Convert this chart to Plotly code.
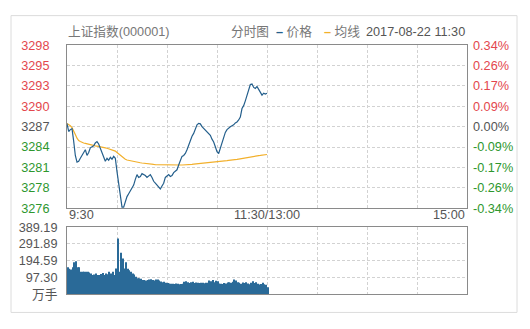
import plotly.graph_objects as go

# ---- data: 上证指数 intraday, 2017-08-22, 9:30 → 11:30 (one value per minute) ----
pre_close = 3286.91

price = [
    3287.34, 3286.25, 3286.51, 3286.64, 3284.93, 3282.96, 3282.04, 3282.17, 3282.57, 3282.96,
    3283.36, 3283.75, 3282.96, 3283.36, 3284.01, 3284.15, 3284.28, 3284.67, 3284.87, 3284.54,
    3284.01, 3283.36, 3282.70, 3282.17, 3282.57, 3282.30, 3282.70, 3282.44, 3282.83, 3282.57,
    3280.73, 3278.89, 3277.05, 3275.86, 3275.86, 3276.65, 3277.31, 3277.70, 3278.10, 3278.36,
    3278.89, 3279.68, 3280.33, 3279.94, 3280.07, 3280.46, 3280.33, 3280.20, 3279.94, 3280.20,
    3280.33, 3279.94, 3279.41, 3279.15, 3278.89, 3278.76, 3278.36, 3278.76, 3279.15, 3279.94,
    3280.20, 3280.33, 3280.07, 3280.20, 3280.60, 3280.86, 3280.99, 3281.65, 3282.30, 3282.83,
    3282.96, 3283.23, 3283.75, 3284.41, 3285.20, 3285.59, 3285.99, 3286.64, 3287.17, 3287.37,
    3287.30, 3286.91, 3286.64, 3286.51, 3286.25, 3285.85, 3285.72, 3285.20, 3284.80, 3284.15,
    3283.49, 3283.23, 3284.01, 3284.80, 3285.46, 3286.12, 3286.51, 3286.77, 3286.91, 3287.04,
    3287.17, 3287.43, 3287.56, 3287.83, 3288.22, 3289.40, 3289.80, 3290.46, 3291.11, 3291.90,
    3292.69, 3292.76, 3292.30, 3292.17, 3292.43, 3292.03, 3291.64, 3291.24, 3291.51, 3291.38,
    3291.51,
]

avg_line = [
    3287.34, 3287.24, 3287.04, 3286.77, 3286.38, 3285.85, 3285.33, 3285.00, 3284.87, 3284.74,
    3284.67, 3284.61, 3284.54, 3284.50, 3284.47, 3284.41, 3284.34, 3284.28, 3284.24, 3284.21,
    3284.17, 3284.15, 3284.08, 3284.01, 3283.95, 3283.88, 3283.82, 3283.75, 3283.69, 3283.55,
    3283.36, 3283.16, 3282.96, 3282.76, 3282.57, 3282.44, 3282.33, 3282.27, 3282.21, 3282.17,
    3282.11, 3282.07, 3282.04, 3282.00, 3281.96, 3281.92, 3281.88, 3281.86, 3281.83, 3281.81,
    3281.78, 3281.75, 3281.73, 3281.71, 3281.70, 3281.69, 3281.67, 3281.66, 3281.65, 3281.65,
    3281.65, 3281.65, 3281.65, 3281.65, 3281.65, 3281.65, 3281.65, 3281.65, 3281.65, 3281.65,
    3281.65, 3281.66, 3281.67, 3281.69, 3281.71, 3281.74, 3281.77, 3281.79, 3281.82, 3281.84,
    3281.87, 3281.90, 3281.92, 3281.95, 3281.98, 3282.00, 3282.03, 3282.05, 3282.08, 3282.11,
    3282.13, 3282.15, 3282.17, 3282.20, 3282.21, 3282.24, 3282.25, 3282.28, 3282.29, 3282.30,
    3282.33, 3282.37, 3282.41, 3282.45, 3282.50, 3282.54, 3282.59, 3282.63, 3282.67, 3282.73,
    3282.76, 3282.80, 3282.83, 3282.87, 3282.90, 3282.94, 3282.96, 3283.00, 3283.03, 3283.07,
    3283.09,
]

# 成交量 (万手)
volume = [
    157, 148, 143, 157, 185, 191, 157, 157, 130, 130,
    130, 130, 130, 126, 120, 111, 115, 120, 111, 111,
    118, 124, 111, 120, 116, 130, 120, 130, 111, 150,
    324, 130, 241, 207, 150, 185, 148, 139, 130, 120,
    115, 102, 93, 93, 90, 83, 83, 80, 83, 85,
    87, 83, 80, 85, 85, 80, 74, 70, 72, 67,
    65, 62, 61, 61, 60, 62, 61, 58, 60, 61,
    72, 75, 70, 65, 70, 72, 65, 68, 67, 65,
    66, 67, 64, 66, 66, 80, 75, 83, 70, 79,
    75, 63, 61, 60, 65, 62, 68, 70, 66, 72,
    85, 80, 70, 66, 61, 68, 65, 70, 62, 58,
    67, 75, 65, 70, 61, 56, 60, 66, 58, 55,
    40,
]

minutes = list(range(len(price)))

price_labels = ["3276", "3278", "3281", "3284", "3287", "3290", "3293", "3295", "3298"]
pct_labels = ["-0.34%", "-0.26%", "-0.17%", "-0.09%", "0.00%", "0.09%", "0.17%", "0.26%", "0.34%"]
vol_ticks = [0, 97.30, 194.59, 291.89, 389.19]
vol_labels = ["万手", "97.30", "194.59", "291.89", "389.19"]
time_labels = [(0, "9:30"), (120, "11:30/13:00"), (240, "15:00")]

# ---- styling ----
W, H = 530, 329
FONT = "Arial, 'Liberation Sans', 'Noto Sans CJK SC', sans-serif"
FS = 12.7
LINE_C = "#245f8c"
AVG_C = "#f2b02c"
BAR_C = "#2a6a98"
RED = "#e3474d"
GREEN = "#2e972e"
GRAY = "#555555"
GRID = "#d2d2d2"
BORDER = "#8a8a8a"

x0, x1 = 67, 467
dom_x = [x0 / W, x1 / W]
dom_main = [1 - 210 / H, 1 - 40 / H]
dom_vol = [1 - 300 / H, 1 - 230 / H]

half_pct = 0.34
half = half_pct / 100 * pre_close
p_lo, p_hi = pre_close - half, pre_close + half
price_ticks = [pre_close + half * k / 4 for k in range(-4, 5)]
pct_ticks = [half_pct * k / 4 for k in range(-4, 5)]
eps = 1e-6


def colored(labels):
    out = []
    for k, t in zip(range(-4, 5), labels):
        c = RED if k > 0 else (GREEN if k < 0 else GRAY)
        out.append(f'<span style="color:{c}">{t}</span>')
    return out


fig = go.Figure()

fig.add_trace(go.Scatter(x=minutes, y=avg_line, mode="lines",
                         line=dict(color=AVG_C, width=1.2), xaxis="x", yaxis="y",
                         hoverinfo="skip"))
fig.add_trace(go.Scatter(x=minutes, y=price, mode="lines",
                         line=dict(color=LINE_C, width=1.2), xaxis="x", yaxis="y"))
# invisible trace to bind the percent axis
fig.add_trace(go.Scatter(x=[0], y=[0], mode="markers", marker=dict(opacity=0),
                         xaxis="x", yaxis="y2", hoverinfo="skip"))
fig.add_trace(go.Bar(x=minutes, y=volume, width=0.6, offset=0.15,
                     marker=dict(color=BAR_C, line=dict(width=0)),
                     xaxis="x2", yaxis="y3"))

xcommon = dict(range=[0, 240], domain=dom_x, showgrid=True, gridcolor=GRID,
               griddash="3px,2px", gridwidth=1, tickvals=[30 * i for i in range(9)],
               showticklabels=False, showline=True, linecolor=BORDER, linewidth=1,
               mirror=True, zeroline=False, ticks="", fixedrange=True)

fig.update_layout(
    width=W, height=H,
    margin=dict(l=0, r=0, t=0, b=0),
    paper_bgcolor="white", plot_bgcolor="white",
    showlegend=False,
    font=dict(family=FONT, size=FS, color=GRAY),
    xaxis=dict(anchor="y", **xcommon),
    xaxis2=dict(anchor="y3", matches="x", **xcommon),
    yaxis=dict(domain=dom_main, range=[p_lo - eps, p_hi + eps], tickvals=price_ticks,
               ticktext=colored(price_labels), showgrid=True, gridcolor=GRID,
               griddash="3px,2px", showline=True, linecolor=BORDER, mirror=True,
               zeroline=False, ticks="", ticklabelstandoff=14, fixedrange=True),
    yaxis2=dict(overlaying="y", side="right", anchor="x",
                range=[-half_pct - eps, half_pct + eps],
                tickvals=pct_ticks, ticktext=colored(pct_labels), showgrid=False,
                zeroline=False, showline=False, ticks="", ticklabelstandoff=5,
                fixedrange=True),
    yaxis3=dict(domain=dom_vol, range=[0, vol_ticks[-1] + eps], tickvals=vol_ticks,
                ticktext=vol_labels, showgrid=True, gridcolor=GRID,
                griddash="3px,2px", showline=True, linecolor=BORDER, mirror=True,
                zeroline=False, ticks="", ticklabelstandoff=6, fixedrange=True),
)

# time axis labels under the price panel
for m, t in time_labels:
    anchor = "left" if m == 0 else ("right" if m == 240 else "center")
    fig.add_annotation(x=m, xref="x", y=1 - 217 / H, yref="paper", text=t,
                       showarrow=False, xanchor=anchor, yanchor="middle",
                       font=dict(size=FS, color=GRAY))

# header row
hy = 1 - 26 / H
fig.add_annotation(x=66 / W, y=hy, xref="paper", yref="paper", text="上证指数(000001)",
                   showarrow=False, xanchor="left", yanchor="middle",
                   font=dict(size=FS, color="#777777"))
fig.add_annotation(x=229 / W, y=hy, xref="paper", yref="paper", text="分时图",
                   showarrow=False, xanchor="left", yanchor="middle",
                   font=dict(size=FS, color="#777777"))
fig.add_annotation(x=274 / W, y=hy, xref="paper", yref="paper",
                   text=f'<span style="color:{LINE_C}"><b>–</b></span> 价格',
                   showarrow=False, xanchor="left", yanchor="middle",
                   font=dict(size=FS, color="#777777"))
fig.add_annotation(x=322 / W, y=hy, xref="paper", yref="paper",
                   text=f'<span style="color:{AVG_C}"><b>–</b></span> 均线',
                   showarrow=False, xanchor="left", yanchor="middle",
                   font=dict(size=FS, color="#777777"))
fig.add_annotation(x=467 / W, y=hy, xref="paper", yref="paper", text="2017-08-22 11:30",
                   showarrow=False, xanchor="right", yanchor="middle",
                   font=dict(size=FS, color=GRAY))

# outer panel frame
fig.add_shape(type="rect", xref="paper", yref="paper",
              x0=11 / W, x1=517 / W, y0=1 - 319 / H, y1=1 - 9 / H,
              line=dict(color="#dcdcdc", width=1), fillcolor="rgba(0,0,0,0)", layer="below")

fig.write_html("out.html", config={"displayModeBar": False})
